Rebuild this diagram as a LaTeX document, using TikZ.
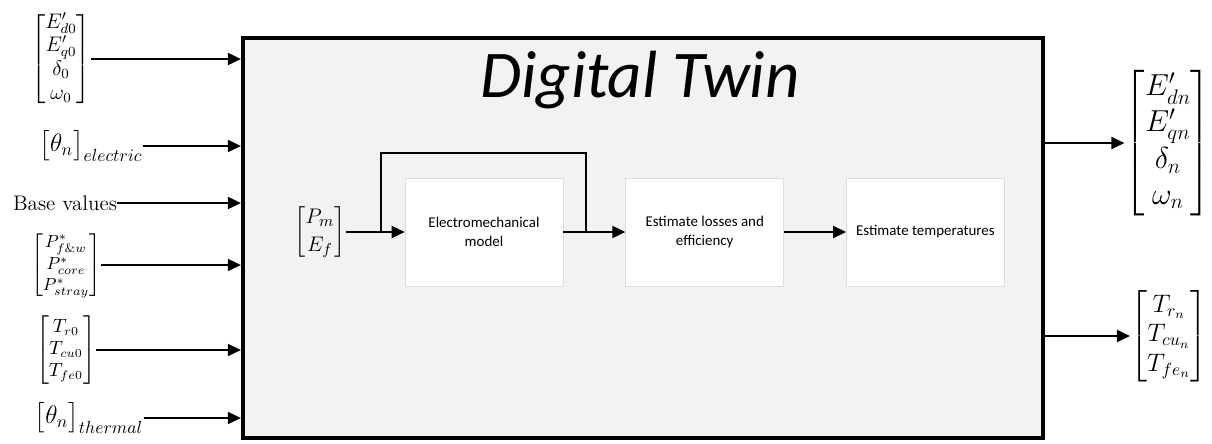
\documentclass[tikz,border=0pt]{standalone}
\usepackage{amsmath}
\usepackage{fontspec}
\newfontfamily\calibri{Carlito}
\usepackage{tikz}
\usetikzlibrary{arrows.meta, positioning}
\definecolor{twinfill}{HTML}{F2F2F2}
\definecolor{boxline}{HTML}{DDDDDD}
\tikzset{
  twin/.style={draw, line width=2.4pt, fill=twinfill, minimum width=160mm, minimum height=80mm},
  block/.style={draw=boxline, fill=white, align=center, minimum width=31.6mm, minimum height=21.6mm, font=\calibri\fontsize{8.5}{10.5}\selectfont},
  vec/.style={inner sep=0pt},
  arrow/.style={-{Triangle[length=2.6mm, width=2.4mm]}, line width=1.1pt},
  wire/.style={line width=1.1pt},
  every node/.style={font=\fontsize{12}{14.4}\selectfont}
}

\begin{document}
\begin{tikzpicture}[x=0.2mm, y=-0.2mm]
    \useasboundingbox (0,0) rectangle (1212,443);
    % digital twin frame
    \node[twin] (dt) at (643,238) {};
    \node[font=\calibri\itshape\fontsize{38}{44}\selectfont] (title) at (640,80) {Digital Twin};

    % inner chain
    \node[block] (em) at (484,232) {Electromechanical\\model};
    \node[block, right=12.4mm of em] (loss) {Estimate losses and\\efficiency};
    \node[block, right=12.4mm of loss] (temp) {Estimate temperatures};
    \node[vec, font=\fontsize{13}{15.6}\selectfont] (pe) at (320,232) {$\begin{bmatrix}P_m\\E_f\end{bmatrix}$};
    \coordinate (split) at (381,232);
    \coordinate (join) at (586,232);
    \draw[arrow] (pe.east) -- (em.west);
    \draw[wire] (split) -- ++(0,-79) -| (join);
    \draw[arrow] (em) -- (loss);
    \draw[arrow] (loss) -- (temp);

    % inputs
    \node[vec] (init) at (61,59) {\renewcommand{\arraystretch}{0.92}$\begin{bmatrix}E'_{d0}\\E'_{q0}\\\delta_0\\\omega_0\end{bmatrix}$};
    \node[vec, font=\fontsize{14}{16.8}\selectfont] (thel) at (91,146) {$\begin{bmatrix}\theta_n\end{bmatrix}_{electric}$};
    \node[vec] (base) at (65,203) {Base values};
    \node[vec, font=\fontsize{10}{12}\selectfont] (loss0) at (66,265) {$\begin{bmatrix}P^*_{f\&w}\\P^*_{core}\\P^*_{stray}\end{bmatrix}$};
    \node[vec, font=\fontsize{10.5}{12.6}\selectfont] (temp0) at (66,350) {$\begin{bmatrix}T_{r0}\\T_{cu0}\\T_{fe0}\end{bmatrix}$};
    \node[vec, font=\fontsize{14}{16.8}\selectfont] (thth) at (89,418) {$\begin{bmatrix}\theta_n\end{bmatrix}_{thermal}$};
    \foreach \n in {init,thel,base,loss0,temp0,thth}
      \draw[arrow] (\n.east) -- (\n.east -| dt.west);

    % outputs
    \node[vec, font=\fontsize{17}{20.4}\selectfont] (outel) at (1168,143) {$\begin{bmatrix}E'_{dn}\\E'_{qn}\\\delta_n\\\omega_n\end{bmatrix}$};
    \node[vec, font=\fontsize{14}{16.8}\selectfont] (outth) at (1169,336) {$\begin{bmatrix}T_{r_n}\\T_{cu_n}\\T_{fe_n}\end{bmatrix}$};
    \draw[arrow] (dt.east |- outel.west) -- (outel.west);
    \draw[arrow] (dt.east |- outth.west) -- (outth.west);
\end{tikzpicture}
\end{document}
